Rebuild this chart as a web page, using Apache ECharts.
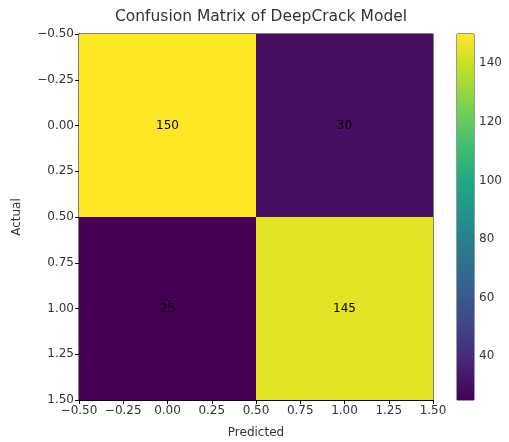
<!DOCTYPE html>
<html>
<head>
<meta charset="utf-8">
<script src="https://cdn.jsdelivr.net/npm/echarts@6/dist/echarts.min.js"></script>
<style>html,body{margin:0;padding:0;background:#fff;}#c{width:509px;height:442px;}</style>
</head>
<body>
<div id="c"></div>
<script>
const predictedIdx = [0, 1];
const actualIdx = [0, 1];
// [predicted, actual, count]
const cells = [[0, 0, 150], [1, 0, 30], [0, 1, 25], [1, 1, 145]];
const axisTicks = [-0.5, -0.25, 0, 0.25, 0.5, 0.75, 1, 1.25, 1.5];
const cbarTicks = [40, 60, 80, 100, 120, 140];
const vMin = 25, vMax = 150;
const viridis = ['#440154','#482475','#414487','#355f8d','#2a788e','#21918c','#22a884','#44bf70','#7ad151','#bddf26','#fde725'];

const FONT = 'DejaVu Sans';
const TXT = '#333';
const fmt = v => v.toFixed(2).replace('-', '\u2212');

const chart = echarts.init(document.getElementById('c'));
chart.setOption({
  backgroundColor: '#fff',
  animation: false,
  title: {
    text: 'Confusion Matrix of DeepCrack Model',
    left: 256, top: 4, textAlign: 'center',
    textStyle: { fontFamily: FONT, fontSize: 15.5, fontWeight: 'normal', color: TXT }
  },
  grid: [
    { left: 79, top: 34, width: 354, height: 366, show: true, borderColor: '#000', borderWidth: 1, backgroundColor: 'transparent', containLabel: false, outerBoundsMode: 'none' },
    { left: 457, top: 34, width: 17, height: 366, show: true, borderColor: '#333', borderWidth: 1, backgroundColor: 'transparent', containLabel: false, outerBoundsMode: 'none' }
  ],
  xAxis: [
    {
      gridIndex: 0, type: 'value', min: -0.5, max: 1.5, interval: 0.25,
      name: 'Predicted', nameLocation: 'middle', nameGap: 27,
      nameTextStyle: { fontFamily: FONT, fontSize: 12, color: TXT },
      axisLine: { show: true, onZero: false, lineStyle: { color: '#000' } },
      axisTick: { show: true, length: 4, lineStyle: { color: '#000' } },
      axisLabel: { fontFamily: FONT, fontSize: 12, color: TXT, margin: 5, formatter: fmt, customValues: axisTicks },
      splitLine: { show: false }
    },
    { gridIndex: 1, type: 'value', min: 0, max: 1, show: false }
  ],
  yAxis: [
    {
      gridIndex: 0, type: 'value', min: -0.5, max: 1.5, interval: 0.25, inverse: true,
      name: 'Actual', nameLocation: 'middle', nameGap: 56, nameRotate: 90,
      nameTextStyle: { fontFamily: FONT, fontSize: 12, color: TXT },
      axisLine: { show: true, onZero: false, lineStyle: { color: '#000' } },
      axisTick: { show: true, length: 4, lineStyle: { color: '#000' } },
      axisLabel: { fontFamily: FONT, fontSize: 12, color: TXT, margin: 5, formatter: fmt, customValues: axisTicks },
      splitLine: { show: false }
    },
    {
      gridIndex: 1, type: 'value', min: vMin, max: vMax, position: 'right',
      axisLine: { show: false },
      axisTick: { show: true, length: 4, lineStyle: { color: '#333' }, customValues: cbarTicks },
      axisLabel: { fontFamily: FONT, fontSize: 12, color: TXT, margin: 5, customValues: cbarTicks },
      splitLine: { show: false }
    }
  ],
  visualMap: {
    show: false, type: 'continuous', seriesIndex: 0, dimension: 2,
    min: vMin, max: vMax, inRange: { color: viridis }
  },
  series: [
    {
      type: 'custom', xAxisIndex: 0, yAxisIndex: 0,
      data: cells,
      renderItem: function (params, api) {
        const x = api.value(0), y = api.value(1);
        const p0 = api.coord([x - 0.5, y - 0.5]);
        const p1 = api.coord([x + 0.5, y + 0.5]);
        const c = api.coord([x, y]);
        return {
          type: 'group',
          children: [
            { type: 'rect', shape: { x: Math.min(p0[0], p1[0]), y: Math.min(p0[1], p1[1]), width: Math.abs(p1[0] - p0[0]), height: Math.abs(p1[1] - p0[1]) },
              style: { fill: api.visual('color') } },
            { type: 'text', x: c[0], y: c[1],
              style: { text: String(api.value(2)), fontFamily: FONT, fontSize: 12, fill: '#000', align: 'center', verticalAlign: 'middle' } }
          ]
        };
      }
    },
    {
      type: 'custom', xAxisIndex: 1, yAxisIndex: 1,
      data: [[0, vMin, vMax]],
      renderItem: function (params, api) {
        const pTop = api.coord([0, api.value(2)]);
        const pBot = api.coord([1, api.value(1)]);
        const stops = viridis.map((col, i) => ({ offset: 1 - i / (viridis.length - 1), color: col }));
        stops.reverse();
        return {
          type: 'rect',
          shape: { x: pTop[0], y: pTop[1], width: pBot[0] - pTop[0], height: pBot[1] - pTop[1] },
          style: { fill: new echarts.graphic.LinearGradient(0, 0, 0, 1, stops) }
        };
      }
    }
  ]
});
</script>
</body>
</html>
